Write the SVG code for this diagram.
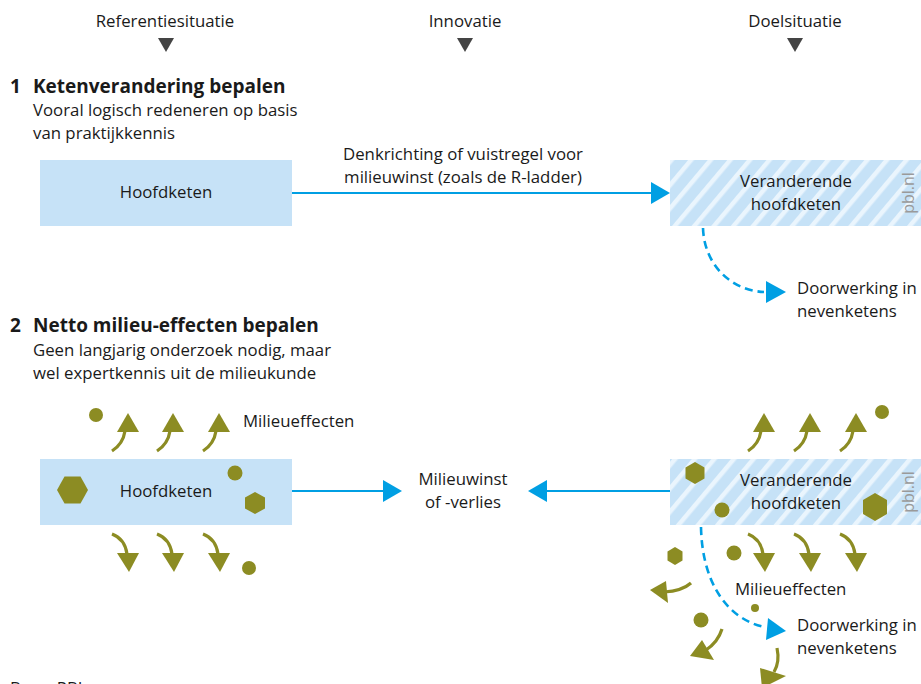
<svg xmlns="http://www.w3.org/2000/svg" xmlns:xlink="http://www.w3.org/1999/xlink" width="921" height="684" viewBox="0 0 921 684">
  <style>
    text { font-family: "Open Sans", "Noto Sans", "Liberation Sans", sans-serif; fill: #1a1a1a; }
    .hdr { font-size: 16.8px; text-anchor: middle; }
    .title { font-size: 19px; font-weight: bold; }
    .sub { font-size: 16.8px; }
    .lbl { font-size: 16.8px; }
    .mid { text-anchor: middle; }
    .pbl { font-size: 16px; fill: #9a9a9a; text-anchor: middle; }
    .box { fill: #c6e2f7; }
    .hatch { fill: url(#stripes); }
    .flow { stroke: #009fe3; stroke-width: 2.2; fill: none; }
    .dash { stroke: #009fe3; stroke-width: 2.6; fill: none; stroke-dasharray: 8 5; }
    .head { fill: #009fe3; }
    .eff { fill: #8c8c23; }
    .stem { stroke: #8c8c23; stroke-width: 3.2; fill: none; }
    .mark { fill: #444; }
  </style>
  <defs>
    <pattern id="stripes" patternUnits="userSpaceOnUse" width="15" height="15" patternTransform="rotate(40)">
      <rect width="15" height="15" fill="#c6e2f7"/>
      <rect width="4.5" height="15" fill="#eaf5fd"/>
    </pattern>
    <!-- curved effect arrows, origin at the tail of the stem -->
    <g id="arrow-up">
      <path class="stem" d="M0,0 Q11,-7 13,-20"/>
      <polygon class="eff" points="16,-38 27,-19 5,-19"/>
    </g>
    <g id="arrow-down">
      <path class="stem" d="M0,0 Q13,5 15,20"/>
      <polygon class="eff" points="17,38 5,19 27,19"/>
    </g>
  </defs>

  <!-- column headers -->
  <g id="headers">
    <text class="hdr" x="165" y="27">Referentiesituatie</text>
    <polygon class="mark" points="158,38 174,38 166,52"/>
    <text class="hdr" x="465" y="27">Innovatie</text>
    <polygon class="mark" points="457,38 473,38 465,52"/>
    <text class="hdr" x="795" y="27">Doelsituatie</text>
    <polygon class="mark" points="787,38 803,38 795,52"/>
  </g>

  <!-- step 1 -->
  <g id="step1-title">
    <text class="title" x="10" y="93">1</text>
    <text class="title" x="33" y="93">Ketenverandering bepalen</text>
    <text class="sub" x="33" y="116">Vooral logisch redeneren op basis</text>
    <text class="sub" x="33" y="139">van praktijkkennis</text>
  </g>

  <g id="s1-hoofdketen">
    <rect class="box" x="40" y="160" width="252" height="66"/>
    <text class="lbl mid" x="166" y="198">Hoofdketen</text>
  </g>

  <g id="s1-veranderende">
    <rect class="hatch" x="670" y="160" width="251" height="66"/>
    <text class="lbl mid" x="796" y="187">Veranderende</text>
    <text class="lbl mid" x="796" y="210">hoofdketen</text>
    <text class="pbl" transform="translate(914,193) rotate(-90)">pbl.nl</text>
  </g>

  <g id="s1-nevenketens">
    <text class="lbl" x="797" y="294">Doorwerking in</text>
    <text class="lbl" x="797" y="317">nevenketens</text>
  </g>

  <g id="s1-connectors">
    <line class="flow" x1="292" y1="193" x2="654" y2="193"/>
    <polygon class="head" points="651,182 670,193 651,204"/>
    <text class="lbl mid" x="463" y="160">Denkrichting of vuistregel voor</text>
    <text class="lbl mid" x="463" y="183">milieuwinst (zoals de R-ladder)</text>
    <path class="dash" d="M703,228 C704,262 728,290 764,292"/>
    <polygon class="head" points="766,281 786,292 766,303"/>
  </g>

  <!-- step 2 -->
  <g id="step2-title">
    <text class="title" x="10" y="332">2</text>
    <text class="title" x="33" y="332">Netto milieu-effecten bepalen</text>
    <text class="sub" x="33" y="356">Geen langjarig onderzoek nodig, maar</text>
    <text class="sub" x="33" y="379">wel expertkennis uit de milieukunde</text>
  </g>

  <g id="s2-hoofdketen">
    <rect class="box" x="40" y="459" width="252" height="66"/>
    <text class="lbl mid" x="166" y="497">Hoofdketen</text>
    <polygon class="eff" points="57,490 64.5,476.5 80.5,476.5 88,490 80.5,503.5 64.5,503.5"/>
    <circle class="eff" cx="235" cy="473" r="7.5"/>
    <polygon class="eff" points="255,492 265,497.5 265,508.5 255,514 245,508.5 245,497.5"/>
  </g>

  <g id="s2-effects-ref">
    <circle class="eff" cx="96" cy="415" r="7"/>
    <use xlink:href="#arrow-up" x="112" y="451"/>
    <use xlink:href="#arrow-up" x="157" y="451"/>
    <use xlink:href="#arrow-up" x="203" y="451"/>
    <text class="lbl" x="243" y="427">Milieueffecten</text>
    <use xlink:href="#arrow-down" x="112" y="534"/>
    <use xlink:href="#arrow-down" x="157" y="534"/>
    <use xlink:href="#arrow-down" x="203" y="534"/>
    <circle class="eff" cx="249" cy="568" r="7"/>
  </g>

  <g id="s2-milieuwinst">
    <text class="lbl mid" x="463" y="485">Milieuwinst</text>
    <text class="lbl mid" x="463" y="508">of -verlies</text>
  </g>

  <g id="s2-veranderende">
    <rect class="hatch" x="670" y="459" width="251" height="66"/>
    <text class="lbl mid" x="796" y="486">Veranderende</text>
    <text class="lbl mid" x="796" y="509">hoofdketen</text>
    <text class="pbl" transform="translate(914,492) rotate(-90)">pbl.nl</text>
    <polygon class="eff" points="695,462 704.5,467.5 704.5,478.5 695,484 685.5,478.5 685.5,467.5"/>
    <circle class="eff" cx="722" cy="510" r="7.5"/>
    <polygon class="eff" points="875,493 887,500 887,514 875,521 863,514 863,500"/>
  </g>

  <g id="s2-effects-goal">
    <use xlink:href="#arrow-up" x="748" y="451"/>
    <use xlink:href="#arrow-up" x="794" y="451"/>
    <use xlink:href="#arrow-up" x="840" y="451"/>
    <circle class="eff" cx="882" cy="412" r="7"/>
    <use xlink:href="#arrow-down" x="748" y="534"/>
    <use xlink:href="#arrow-down" x="794" y="534"/>
    <use xlink:href="#arrow-down" x="840" y="534"/>
    <circle class="eff" cx="734" cy="553" r="7.5"/>
    <polygon class="eff" points="675,547 682.5,551.5 682.5,560.5 675,565 667.5,560.5 667.5,551.5"/>
    <text class="lbl" x="735" y="595">Milieueffecten</text>
    <circle class="eff" cx="755" cy="608" r="4"/>
    <circle class="eff" cx="701" cy="620" r="7.5"/>
    <!-- outgoing effects towards the side chains -->
    <path class="stem" d="M691,583 Q682,591 664,592"/>
    <polygon class="eff" points="650,590 666,581 668,603"/>
    <path class="stem" d="M722,629 Q718,642 706,650"/>
    <polygon class="eff" points="690,656 702,640 714,660"/>
    <path class="stem" d="M777,648 Q780,662 774,672"/>
    <polygon class="eff" points="762,688 760,668 786,676"/>
  </g>

  <g id="s2-nevenketens">
    <text class="lbl" x="797" y="631">Doorwerking in</text>
    <text class="lbl" x="797" y="654">nevenketens</text>
  </g>

  <g id="s2-connectors">
    <line class="flow" x1="292" y1="491" x2="386" y2="491"/>
    <polygon class="head" points="383,480 402,491 383,502"/>
    <line class="flow" x1="670" y1="491" x2="544" y2="491"/>
    <polygon class="head" points="547,480 528,491 547,502"/>
    <path class="dash" d="M701,527 C702,580 725,618 764,627"/>
    <polygon class="head" points="768,618 786,631 766,640"/>
  </g>

  <text class="sub" x="10" y="694">Bron: PBL</text>
</svg>
